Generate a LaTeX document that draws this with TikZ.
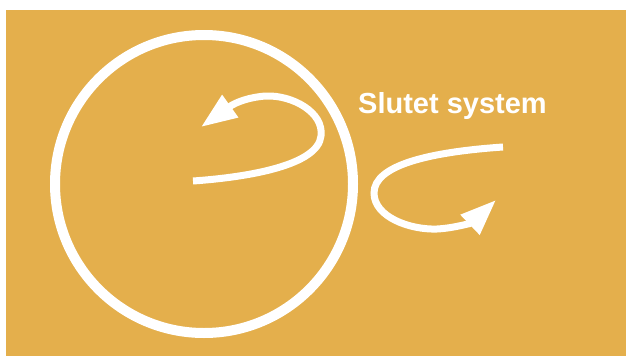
\documentclass[tikz,border=0pt]{standalone}
\usepackage{fontspec}
\setmainfont{Liberation Sans}
\usetikzlibrary{arrows.meta}
\definecolor{gold}{RGB}{228,175,76}
\tikzset{
  ring/.style={draw=white, line width=10pt},
  flow/.style={draw=white, line width=7pt, -{Triangle[length=36pt,width=26pt]}},
  label/.style={text=white, font=\fontsize{29}{31}\selectfont\bfseries, inner sep=0pt, anchor=base west}
}
\begin{document}
\begin{tikzpicture}[x=1pt,y=-1pt]
\useasboundingbox (0,0) rectangle (626,356);
\fill[gold] (6,10) rectangle (626,356);
\draw[ring] (204,184) circle[radius=149];
\coordinate (a1) at (193,181);
\coordinate (a2) at (321,136);
\coordinate (a3) at (266,96);
\coordinate (a4) at (201,127);
\draw[flow] (a1) .. controls (250,177) and (318,165) .. (a2)
  .. controls (324,112) and (292,95) .. (a3)
  .. controls (250,97) and (236,102) .. (a4);
\coordinate (b1) at (503,147);
\coordinate (b2) at (374,193);
\coordinate (b3) at (437,229);
\coordinate (b4) at (496,200);
\draw[flow] (b1) .. controls (430,152) and (374,165) .. (b2)
  .. controls (374,217) and (410,230) .. (b3)
  .. controls (456,228) and (473,222) .. (b4);
\node[label] (t) at (358,113) {Slutet system};
\end{tikzpicture}
\end{document}
